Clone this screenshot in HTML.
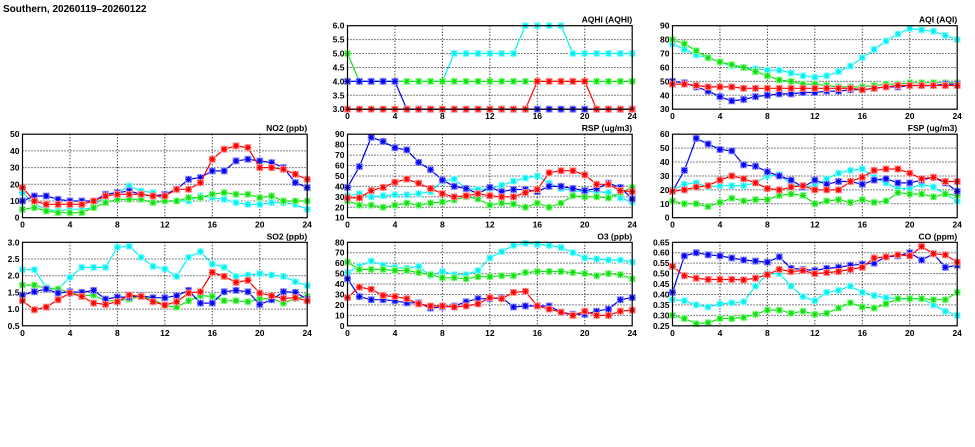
<!DOCTYPE html>
<html><head><meta charset="utf-8">
<style>
html,body{margin:0;padding:0;background:#fff;width:975px;height:447px;overflow:hidden}
svg{display:block}
text{font-family:"Liberation Sans",sans-serif;font-weight:bold;fill:#000}
</style></head>
<body>
<svg id="chart" width="975" height="447" viewBox="0 0 975 447" xmlns="http://www.w3.org/2000/svg">
<text x="3" y="12" font-size="10">Southern, 20260119–20260122</text>
</svg>
<script>
const hours = [0,1,2,3,4,5,6,7,8,9,10,11,12,13,14,15,16,17,18,19,20,21,22,23,24];
const xTicks = [0,4,8,12,16,20,24];

const aqhiRed   = [3,3,3,3,3,3,3,3,3,3,3,3,3,3,3,3,4,4,4,4,4,3,3,3,3];
const aqhiBlue  = [4,4,4,4,4,3,3,3,3,3,3,3,3,3,3,3,3,3,3,3,3,3,3,3,3];
const aqhiCyan  = [4,4,4,4,4,4,4,4,4,5,5,5,5,5,5,6,6,6,6,5,5,5,5,5,5];
const aqhiGreen = [5,4,4,4,4,4,4,4,4,4,4,4,4,4,4,4,4,4,4,4,4,4,4,4,4];
const aqhiTicks = [3.0,3.5,4.0,4.5,5.0,5.5,6.0];

const aqiRed   = [48,48,47,46,46,46,45,45,45,45,45,45,45,45,45,45,44,45,46,47,47,47,47,47,47];
const aqiBlue  = [50,49,46,43,39,36,37,39,40,41,41,42,42,43,43,44,44,45,46,46,47,47,47,48,48];
const aqiCyan  = [77,73,69,67,64,61,60,59,58,58,56,54,53,54,57,61,67,73,79,84,88,87,86,83,80];
const aqiGreen = [80,77,72,67,64,62,60,57,54,51,50,48,48,47,46,46,46,47,48,48,49,49,49,49,49];
const aqiTicks = [30,40,50,60,70,80,90];

const no2Red   = [18,10,8,8,8,8,10,13,14,14,14,13,13,17,17,21,35,41,43,42,30,30,29,26,23];
const no2Blue  = [10,13,13,11,10,10,10,14,15,16,14,13,14,17,23,24,28,28,34,35,34,33,30,21,18];
const no2Cyan  = [15,8,5,4,5,5,6,14,15,19,16,15,10,10,10,13,12,11,9,8,8,9,9,8,5];
const no2Green = [5,6,4,3,3,3,6,9,11,11,11,9,10,10,12,12,14,15,14,14,12,13,10,10,10];
const no2Ticks = [0,10,20,30,40,50];

const rspRed   = [29,29,36,39,44,47,43,38,33,30,31,33,31,30,30,34,37,53,55,55,51,42,42,36,35];
const rspBlue  = [39,59,87,83,77,75,63,56,46,40,38,33,39,35,37,37,35,40,40,38,36,38,43,39,28];
const rspCyan  = [31,33,30,31,32,32,33,35,45,47,38,37,38,41,45,48,50,43,38,36,35,35,34,29,25];
const rspGreen = [26,22,22,20,22,24,22,24,25,27,30,28,22,24,23,20,24,20,24,31,30,30,29,34,39];
const rspTicks = [10,20,30,40,50,60,70,80,90];

const fspRed   = [19,20,22,23,27,30,28,25,21,20,22,23,20,20,20,26,29,34,35,35,32,28,29,26,26];
const fspBlue  = [19,34,57,53,49,48,38,37,33,30,27,22,27,24,26,26,24,27,28,25,25,27,29,25,19];
const fspCyan  = [20,24,25,22,23,23,23,25,30,31,24,22,23,28,32,34,35,29,25,21,21,24,22,17,12];
const fspGreen = [12,10,10,8,11,14,12,13,13,16,17,16,10,12,13,11,13,11,12,18,17,17,15,17,16];
const fspTicks = [0,10,20,30,40,50,60];

const so2Red   = [1.25,0.98,1.06,1.28,1.48,1.38,1.18,1.14,1.22,1.42,1.38,1.22,1.12,1.22,1.48,1.52,2.1,1.98,1.8,1.86,1.48,1.4,1.32,1.34,1.25];
const so2Blue  = [1.42,1.52,1.6,1.48,1.52,1.5,1.56,1.3,1.36,1.36,1.4,1.34,1.34,1.4,1.56,1.18,1.18,1.52,1.56,1.52,1.14,1.28,1.52,1.5,1.3];
const so2Cyan  = [2.18,2.18,1.65,1.6,1.95,2.25,2.25,2.25,2.85,2.88,2.55,2.28,2.2,1.98,2.55,2.72,2.35,2.25,1.98,2.02,2.06,2.02,1.98,1.82,1.7];
const so2Green = [1.72,1.72,1.62,1.6,1.5,1.4,1.42,1.25,1.25,1.3,1.38,1.3,1.1,1.06,1.25,1.4,1.38,1.25,1.25,1.22,1.3,1.32,1.18,1.32,1.38];
const so2Ticks = [0.5,1.0,1.5,2.0,2.5,3.0];

const o3Red   = [27,37,35,29,28,26,21,19,19,18,19,21,27,26,32,33,19,16,13,10,14,10,10,14,15];
const o3Blue  = [45,28,25,25,24,22,22,17,18,19,23,26,26,27,18,19,19,19,13,11,11,14,16,25,27];
const o3Cyan  = [51,57,62,58,56,55,57,48,52,49,49,53,65,71,77,79,78,77,75,70,65,64,63,63,61];
const o3Green = [61,54,54,54,53,53,51,49,46,46,45,47,47,48,48,51,52,52,52,51,50,48,50,49,45];
const o3Ticks = [0,10,20,30,40,50,60,70,80];

const coRed   = [0.535,0.49,0.478,0.472,0.472,0.472,0.47,0.478,0.495,0.52,0.51,0.515,0.5,0.505,0.51,0.52,0.53,0.575,0.58,0.59,0.585,0.63,0.595,0.59,0.555];
const coBlue  = [0.41,0.585,0.6,0.59,0.585,0.575,0.565,0.56,0.555,0.58,0.525,0.52,0.515,0.525,0.53,0.54,0.545,0.55,0.58,0.585,0.6,0.565,0.595,0.53,0.54];
const coCyan  = [0.375,0.37,0.35,0.34,0.355,0.36,0.365,0.44,0.5,0.5,0.44,0.39,0.37,0.41,0.42,0.44,0.41,0.395,0.385,0.38,0.38,0.38,0.35,0.32,0.3];
const coGreen = [0.3,0.285,0.26,0.265,0.285,0.285,0.29,0.305,0.325,0.325,0.31,0.32,0.305,0.31,0.335,0.36,0.34,0.335,0.355,0.38,0.38,0.38,0.375,0.375,0.41];
const coTicks = [0.25,0.30,0.35,0.40,0.45,0.50,0.55,0.60,0.65];

const NS = "http://www.w3.org/2000/svg";
const svg = document.getElementById('chart');
function mk(tag, attrs, parent){
  const e = document.createElementNS(NS, tag);
  for (const k in attrs) e.setAttribute(k, attrs[k]);
  (parent||svg).appendChild(e);
  return e;
}
const COLS = [22.5, 347.5, 672.5];
const ROWS = [25.7, 134.2, 242.3];
const PW = 284.7, PH = 83.5;
const colors = {cyan:['#00f0f0','#a8ffff'], green:['#10e010','#a8ffa8'], blue:['#0000f0','#9a9aff'], red:['#ff0000','#ffa0a0']};

function panel(key, title, col, row, ticks, dec, series){
  const x0 = COLS[col], y0 = ROWS[row];
  const g = mk('g', {});
  
  
  const ymin = ticks[0], ymax = ticks[ticks.length-1];
  const xs = h => x0 + h/24*PW;
  const ys = v => y0 + PH - (v-ymin)/(ymax-ymin)*PH;
  // grid
  ticks.forEach((t,i) => {
    if (i>0 && i<ticks.length-1) {
      const l = mk('line', {x1:x0, x2:x0+PW, y1:ys(t), y2:ys(t), stroke:'#000', 'stroke-width':1, 'stroke-dasharray':'1,2'}, g);
      
      
    }
    const tx = mk('text', {x:x0-3, y:ys(t)+3, 'font-size':8.5, 'text-anchor':'end'}, g);
    tx.textContent = t.toFixed(dec);
    
    
  });
  xTicks.forEach((t,i) => {
    if (i>0 && i<xTicks.length-1) {
      const l = mk('line', {x1:xs(t), x2:xs(t), y1:y0, y2:y0+PH, stroke:'#000', 'stroke-width':1, 'stroke-dasharray':'1,2'}, g);
      
      
    }
    const tx = mk('text', {x:xs(t), y:y0+PH+10, 'font-size':8.5, 'text-anchor':'middle'}, g);
    tx.textContent = String(t);
    
    
  });
  const tt = mk('text', {x:x0+PW, y:y0-3, 'font-size':8.5, 'text-anchor':'end'}, g);
  tt.textContent = title;
  
  
  // series
  series.forEach(([cname, vals]) => {
    const [c, light] = colors[cname];
    const sg = mk('g', {}, g);
    
    
    const pts = vals.map((v,i) => xs(hours[i]).toFixed(1) + ',' + ys(v).toFixed(1)).join(' ');
    mk('polyline', {points:pts, fill:'none', stroke:c, 'stroke-width':1.2}, sg);
    vals.forEach((v,i) => {
      const px = xs(hours[i]), py = ys(v);
      const m = mk('g', {}, sg);
      
      
      mk('rect', {x:px-3.5, y:py-3.5, width:7, height:7, fill:light}, m);
      mk('path', {d:`M${px-3},${py}H${px+3}M${px},${py-3}V${py+3}M${px-2.3},${py-2.3}L${px+2.3},${py+2.3}M${px-2.3},${py+2.3}L${px+2.3},${py-2.3}`, stroke:c, 'stroke-width':1.2, fill:'none'}, m);
    });
  });
  const fr = mk('rect', {x:x0, y:y0, width:PW, height:PH, fill:'none', stroke:'#000', 'stroke-width':1.2}, g);
  
  
}

panel('aqhi','AQHI (AQHI)',1,0,aqhiTicks,1,[['cyan',aqhiCyan],['green',aqhiGreen],['blue',aqhiBlue],['red',aqhiRed]]);
panel('aqi','AQI (AQI)',2,0,aqiTicks,0,[['cyan',aqiCyan],['green',aqiGreen],['blue',aqiBlue],['red',aqiRed]]);
panel('no2','NO2 (ppb)',0,1,no2Ticks,0,[['cyan',no2Cyan],['green',no2Green],['blue',no2Blue],['red',no2Red]]);
panel('rsp','RSP (ug/m3)',1,1,rspTicks,0,[['cyan',rspCyan],['green',rspGreen],['blue',rspBlue],['red',rspRed]]);
panel('fsp','FSP (ug/m3)',2,1,fspTicks,0,[['cyan',fspCyan],['green',fspGreen],['blue',fspBlue],['red',fspRed]]);
panel('so2','SO2 (ppb)',0,2,so2Ticks,1,[['cyan',so2Cyan],['green',so2Green],['blue',so2Blue],['red',so2Red]]);
panel('o3','O3 (ppb)',1,2,o3Ticks,0,[['cyan',o3Cyan],['green',o3Green],['blue',o3Blue],['red',o3Red]]);
panel('co','CO (ppm)',2,2,coTicks,2,[['cyan',coCyan],['green',coGreen],['blue',coBlue],['red',coRed]]);
</script>
</body></html>
